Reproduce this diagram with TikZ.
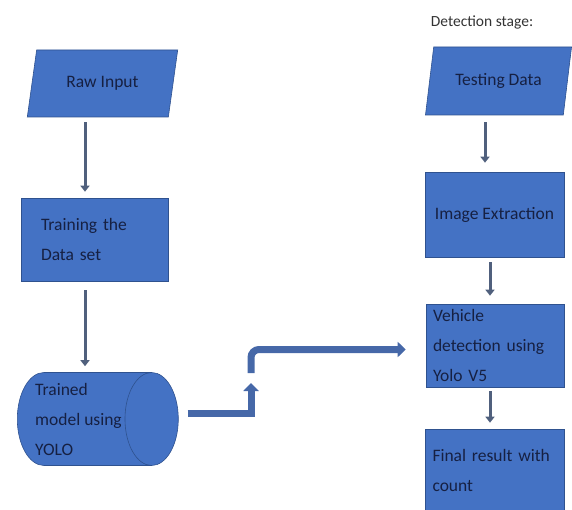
\documentclass[tikz,border=0pt]{standalone}
\usepackage{fontspec}
\setmainfont{Carlito}
\usetikzlibrary{shapes.geometric,arrows.meta}
\definecolor{boxblue}{RGB}{68,114,196}
\definecolor{boxedge}{RGB}{47,82,143}
\definecolor{txtnavy}{RGB}{22,32,66}
\definecolor{arrgrey}{RGB}{80,96,125}
\definecolor{flowblue}{RGB}{70,104,168}
\tikzset{
  flowtext/.style={text=txtnavy, font=\fontsize{17.5}{30}\selectfont},
  iobox/.style={trapezium, trapezium left angle=70, trapezium right angle=110,
    trapezium stretches=true, fill=boxblue, draw=boxedge, line width=.6pt,
    inner sep=0pt, flowtext},
  procbox/.style={rectangle, fill=boxblue, draw=boxedge, line width=.6pt,
    align=left, inner ysep=0pt, flowtext},
  thinarrow/.style={arrgrey, line width=3pt, shorten <=5pt, shorten >=6pt,
    -{Triangle[width=9pt,length=6pt]}},
  thickarrow/.style={flowblue, line width=7pt,
    -{Triangle[width=15pt,length=8pt]}}
}
\begin{document}
\begin{tikzpicture}[x=1pt, y=-1pt]
        \useasboundingbox (0,0) rectangle (572,510);
        % training stage
        \node[iobox, minimum width=151pt, minimum height=67pt] (raw) at (102.5,83.5) {Raw Input};
        \node[procbox, minimum width=147pt, minimum height=83pt, inner xsep=20pt, text width=107pt] (train) at (94.5,239.5) {Training the\\Data set};
        \node[cylinder, shape border rotate=0, aspect=8, minimum width=93pt, minimum height=161pt,
              fill=boxblue, draw=boxedge, line width=.6pt, anchor=west,
              label={[name=cyltext, flowtext, align=left, anchor=west, inner sep=0pt, xshift=18pt]west:Trained\\model using\\YOLO}]
              (cyl) at (17,419) {};
        % detection stage
        \node[text=black!80, font=\fontsize{15.5}{18}\selectfont] (stage) at (482,22) {Detection stage:};
        \node[iobox, minimum width=147pt, minimum height=68pt] (test) at (498.5,81) {Testing Data};
        \node[procbox, align=center, minimum width=139pt, minimum height=85pt] (imgx) at (494.5,214.5) {Image Extraction};
        \node[procbox, minimum width=138pt, minimum height=83pt, inner xsep=7pt, text width=124pt] (vd) at (495,345.5) {Vehicle\\detection using\\Yolo V5};
        \node[procbox, minimum width=139pt, minimum height=82pt, inner xsep=7pt, text width=125pt] (final) at (495,470) {Final result with\\count};
        % thin arrows
        \draw[thinarrow] ([xshift=-9.5pt]train.north |- raw.south) -- ([xshift=-9.5pt]train.north);
        \draw[thinarrow, shorten <=9pt] ([xshift=-9.5pt]train.south) -- ([xshift=-9.5pt]train.south |- cyl.north);
        \draw[thinarrow, shorten <=7pt, shorten >=9pt] ([xshift=-9.5pt]imgx.north |- test.south) -- ([xshift=-9.5pt]imgx.north);
        \draw[thinarrow, shorten >=8pt] ([xshift=-4.5pt]imgx.south) -- ([xshift=-5pt]vd.north);
        \draw[thinarrow, shorten <=4pt] ([xshift=-5pt]vd.south) -- ([xshift=-5pt]final.north);
        % thick connector, drawn in two parts
        \coordinate (upA) at (251,383);
        \coordinate (upB) at (251,373);
        \draw[thickarrow, shorten <=9pt] ([yshift=6pt]cyl.east) -| (upA);
        \draw[thickarrow, rounded corners=8pt, shorten >=20pt] (upB) |- ([yshift=-4pt]vd.west);
\end{tikzpicture}
\end{document}
